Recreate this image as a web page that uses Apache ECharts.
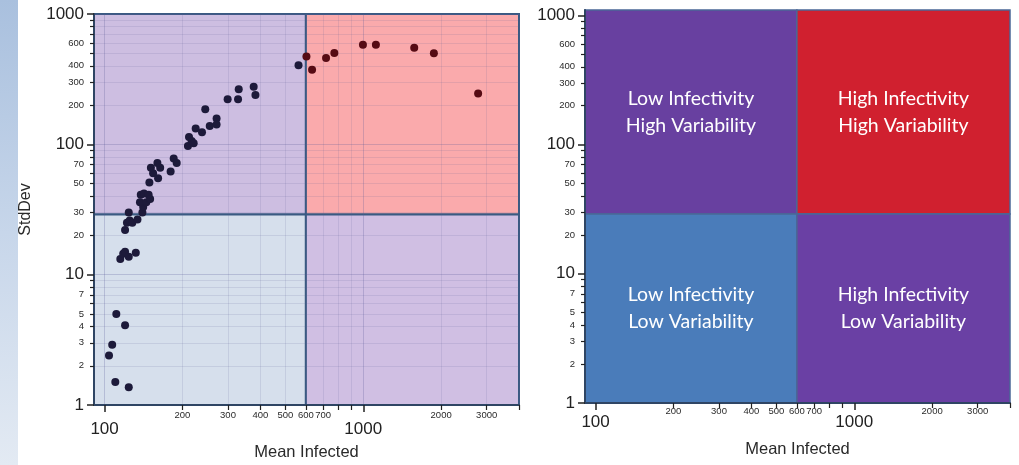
<!DOCTYPE html>
<html><head><meta charset="utf-8">
<script src="https://cdn.jsdelivr.net/npm/echarts@6/dist/echarts.min.js"></script>
<style>html,body{margin:0;padding:0;background:#fff;overflow:hidden}#c{width:1019px;height:465px}</style>
</head><body><div id="c"></div>
<script>
// ---- data ----
const meanInfected = [104,107,110,111,120,124,
  115,118,120,124,132,
  120,122,125,128,134,124,140,
  141,137,145,150,138,142,148,
  149,154,161,151,164,160,180,185,190,
  210,212,217,221,225,238,245,255,271,271,
  299,328,330,377,383,
  562,603,634,718,773,997,1119,1574,1875,2780];
const stdDev = [2.4,2.9,1.5,5.0,4.1,1.37,
  13.2,14.5,15,13.7,14.7,
  22,25,26,25,26.5,30,30,
  33,36,36,38,41,42,41,
  51,60,55,66,66,72,62,78,72,
  97,114,106,102,132,124,186,138,158,142,
  222,222,265,276,239,
  405,472,373,459,501,581,581,551,499,245];

const xMajorTicks = [100, 1000];
const xMinorTicks = [200,300,400,500,600,700,800,900,2000,3000,4000];
const xTickLabels = [100,200,300,400,500,600,700,1000,2000,3000];
const xGridValues = [100,200,300,400,500,600,700,800,900,1000,2000,3000];
const yMajorTicks = [1, 10, 100, 1000];
const yMinorTicks = [2,3,4,5,6,7,8,9,20,30,40,50,60,70,80,90,200,300,400,500,600,700,800,900];
const yTickLabels = [1,2,3,4,5,7,10,20,30,50,70,100,200,300,400,600,1000];
const yGridValues = [1,2,3,4,5,6,7,8,9,10,20,30,40,50,60,70,80,90,100,200,300,400,500,600,700,800,900];

const quadrantLabels = ['Low Infectivity\nHigh Variability','High Infectivity\nHigh Variability',
                        'Low Infectivity\nLow Variability','High Infectivity\nLow Variability'];
const xRange = [91, 4000];
const yRangeLeft = [1, 1000];
const yRangeRight = [1, 1100];
const xSplit = 600, ySplit = 29;
const xTitle = 'Mean Infected', yTitle = 'StdDev';

// ---- styling ----
const leftColors = ['#cdbee1','#faaaac','#d6dfec','#d0bfe3'];
const rightColors = ['#6840a0','#d0202f','#4a7cba','#6a40a4'];
const FONT = 'Liberation Sans, Arial, sans-serif';

function quadData(yr) {
  return [
    [xRange[0], xSplit, ySplit, yr[1], 0],
    [xSplit, xRange[1], ySplit, yr[1], 1],
    [xRange[0], xSplit, yr[0], ySplit, 2],
    [xSplit, xRange[1], yr[0], ySplit, 3]
  ];
}
function quadSeries(xi, yi, yr, colors, border, bw, labels) {
  return {
    type: 'custom', xAxisIndex: xi, yAxisIndex: yi, z: 1, silent: true,
    data: quadData(yr), encode: {x: [0,1], y: [2,3]},
    renderItem: function (params, api) {
      const p0 = api.coord([api.value(0), api.value(2)]);
      const p1 = api.coord([api.value(1), api.value(3)]);
      const idx = api.value(4);
      const x = Math.min(p0[0], p1[0]), y = Math.min(p0[1], p1[1]);
      const w = Math.abs(p1[0] - p0[0]), h = Math.abs(p1[1] - p0[1]);
      const children = [{type: 'rect', shape: {x: x, y: y, width: w, height: h},
        style: {fill: colors[idx], stroke: border, lineWidth: bw}}];
      if (labels) {
        children.push({type: 'text', style: {text: labels[idx], x: x + w/2, y: y + h/2,
          align: 'center', verticalAlign: 'middle', fill: '#ffffff',
          fontFamily: 'Lato, Open Sans, sans-serif', fontSize: 19.5, lineHeight: 27}});
      }
      return {type: 'group', children: children};
    }
  };
}
function fmt(majors) {
  return function (v) {
    const r = Math.round(v);
    return majors.indexOf(r) >= 0 ? '{big|' + r + '}' : '{small|' + r + '}';
  };
}
function xMain(gi, name, bigPad, gap, smallMargin) {
  return {type: 'log', logBase: 10, gridIndex: gi, min: xRange[0], max: xRange[1], position: 'bottom', z: 2,
    name: name, nameLocation: 'middle', nameGap: gap,
    nameTextStyle: {fontFamily: FONT, fontSize: 16.5, color: '#2a2a2a'},
    axisLine: {show: true, lineStyle: {color: '#2f4564', width: 2}},
    axisTick: {show: true, customValues: xMajorTicks, length: 7, lineStyle: {color: '#222', width: 1.5}},
    axisLabel: {show: true, customValues: xTickLabels, margin: smallMargin, hideOverlap: false,
      formatter: fmt(xMajorTicks), verticalAlign: 'top',
      rich: {big: {fontFamily: FONT, fontSize: 17, color: '#222', padding: [bigPad,0,0,0]},
             small: {fontFamily: FONT, fontSize: 9.5, color: '#2a2a2a'}}},
    splitLine: {show: gi === 0, lineStyle: {color: 'rgba(90,90,150,0.26)', width: 1}}
  };
}
function xMinor(gi) {
  return {type: 'log', logBase: 10, gridIndex: gi, min: xRange[0], max: xRange[1], position: 'bottom', z: 2,
    axisLine: {show: false}, axisLabel: {show: false},
    axisTick: {show: true, customValues: xMinorTicks, length: 5, lineStyle: {color: '#222', width: 1.2}},
    splitLine: {show: gi === 0, customValues: xGridValues, lineStyle: {color: 'rgba(90,90,150,0.14)', width: 1}}
  };
}
function yMain(gi, yr, name) {
  return {type: 'log', logBase: 10, gridIndex: gi, min: yr[0], max: yr[1], position: 'left', z: 2,
    name: name, nameLocation: 'middle', nameGap: 60,
    nameTextStyle: {fontFamily: FONT, fontSize: 16, color: '#2a2a2a'},
    axisLine: {show: true, lineStyle: {color: '#2f4564', width: 2}},
    axisTick: {show: true, customValues: yMajorTicks, length: 7, lineStyle: {color: '#222', width: 1.5}},
    axisLabel: {show: true, customValues: yTickLabels, margin: 10, hideOverlap: false,
      formatter: fmt(yMajorTicks),
      rich: {big: {fontFamily: FONT, fontSize: 17, color: '#222'},
             small: {fontFamily: FONT, fontSize: 9.5, color: '#2a2a2a'}}},
    splitLine: {show: gi === 0, lineStyle: {color: 'rgba(90,90,150,0.26)', width: 1}}
  };
}
function yMinor(gi, yr) {
  return {type: 'log', logBase: 10, gridIndex: gi, min: yr[0], max: yr[1], position: 'left', z: 2,
    axisLine: {show: false}, axisLabel: {show: false},
    axisTick: {show: true, customValues: yMinorTicks, length: 4, lineStyle: {color: '#222', width: 1.2}},
    splitLine: {show: gi === 0, customValues: yGridValues, lineStyle: {color: 'rgba(90,90,150,0.14)', width: 1}}
  };
}

const points = meanInfected.map((x, i) => [x, stdDev[i]]);

const chart = echarts.init(document.getElementById('c'), null, {renderer: 'canvas'});
chart.setOption({
  animation: false,
  backgroundColor: '#ffffff',
  graphic: [{type: 'rect', left: 0, top: 0, shape: {width: 18, height: 465}, silent: true, z: -1,
    style: {fill: new echarts.graphic.LinearGradient(0, 0, 0, 1, [
      {offset: 0, color: '#a9c0de'}, {offset: 0.5, color: '#c7d6ea'}, {offset: 1, color: '#e3eaf3'}])}}],
  grid: [
    {left: 94, right: 500, top: 14, bottom: 60, outerBoundsMode: 'none'},
    {left: 585, right: 9, top: 10, bottom: 62, outerBoundsMode: 'none'}
  ],
  xAxis: [xMain(0, xTitle, 11, 39, 5), xMinor(0), xMain(1, xTitle, 8, 38, 3), xMinor(1)],
  yAxis: [yMain(0, yRangeLeft, yTitle), yMinor(0, yRangeLeft), yMain(1, yRangeRight, ''), yMinor(1, yRangeRight)],
  series: [
    quadSeries(0, 0, yRangeLeft, leftColors, '#3a5a82', 2, null),
    quadSeries(2, 2, yRangeRight, rightColors, '#4a6796', 1.5, quadrantLabels),
    {type: 'scatter', xAxisIndex: 0, yAxisIndex: 0, z: 3, symbol: 'circle', symbolSize: 8,
     data: points,
     itemStyle: {opacity: 1, color: function (p) {
       return (p.value[0] >= xSplit && p.value[1] >= ySplit) ? '#560b14' : '#1d1a3a'; }}}
  ]
});
</script></body></html>
